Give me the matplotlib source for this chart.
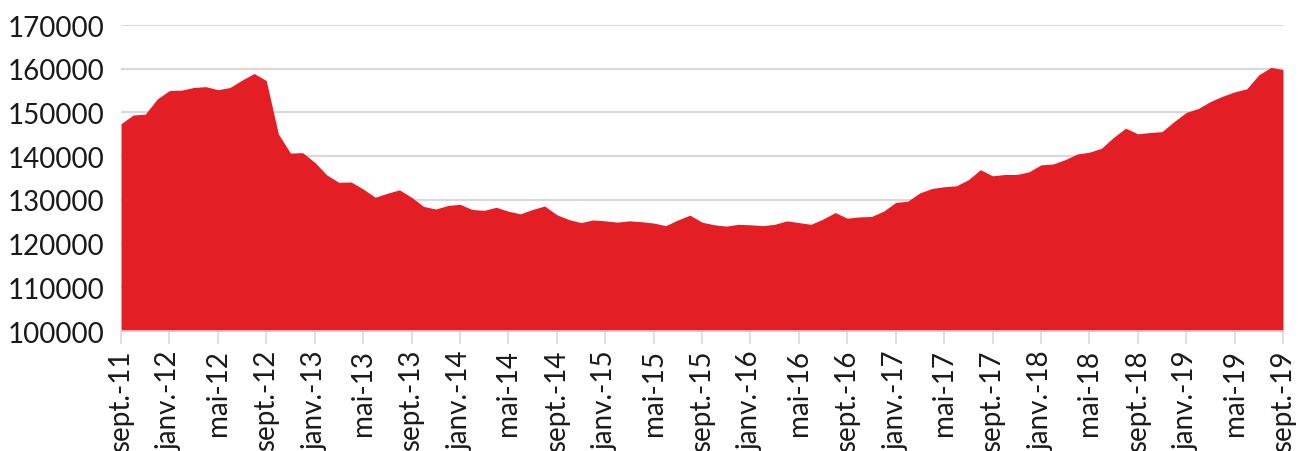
import numpy as np
import matplotlib
matplotlib.use('Agg')
import matplotlib.pyplot as plt

# monthly values, sept. 2011 -> sept. 2019
values = [147400, 149400, 149600, 153100, 155000, 155100, 155700, 155900, 155200, 155700,
          157400, 158900, 157300, 145100, 140700, 140800, 138600, 135700, 134000, 134100,
          132500, 130600, 131500, 132300, 130600, 128500, 127900, 128700, 129000, 127800,
          127600, 128300, 127400, 126800, 127800, 128600, 126600, 125500, 124800, 125400,
          125200, 124900, 125200, 125000, 124700, 124100, 125400, 126500, 124900, 124300,
          124000, 124400, 124300, 124100, 124400, 125200, 124800, 124400, 125600, 127100,
          125800, 126100, 126200, 127400, 129400, 129700, 131600, 132600, 133000, 133200,
          134600, 136900, 135500, 135800, 135800, 136400, 138000, 138200, 139200, 140500,
          140900, 141800, 144300, 146400, 145100, 145400, 145600, 147900, 150000, 150900,
          152500, 153700, 154700, 155400, 158600, 160300, 159800]

months = ['janv.', 'févr.', 'mars', 'avr.', 'mai', 'juin', 'juil.', 'août', 'sept.', 'oct.', 'nov.', 'déc.']
labels = []
for i in range(len(values)):
    m = (8 + i) % 12
    y = 11 + (8 + i) // 12
    labels.append('%s-%02d' % (months[m], y))

plt.rcParams['font.family'] = ['Lato', 'DejaVu Sans']

fig = plt.figure(figsize=(12.99, 4.52), dpi=100)
ax = fig.add_axes([121/1299, 1 - 332/452, (1283 - 121)/1299, (332 - 26)/452])

x = np.arange(len(values))
ax.fill_between(x, 100000, values, color='#E31E25', linewidth=0, zorder=2)

ax.set_xlim(0, len(values) - 1)
ax.set_ylim(100000, 170000)
ax.set_yticks(np.arange(100000, 170001, 10000))
ax.yaxis.grid(True, color='#D9D9D9', linewidth=1.6, zorder=0)
ax.set_axisbelow(True)

ticks = x[::4]
ax.set_xticks(ticks)
ax.set_xticklabels([labels[i] for i in ticks], rotation=90)

for s in ['top', 'right', 'left']:
    ax.spines[s].set_visible(False)
ax.spines['bottom'].set_color('#D9D9D9')
ax.spines['bottom'].set_linewidth(1.2)
ax.tick_params(axis='x', length=9, width=1.2, color='#D9D9D9', labelsize=20, pad=4, labelcolor='#1a1a1a')
ax.tick_params(axis='y', length=0, labelsize=20, pad=12, labelcolor='#1a1a1a')

fig.savefig('out.png', dpi=100)
